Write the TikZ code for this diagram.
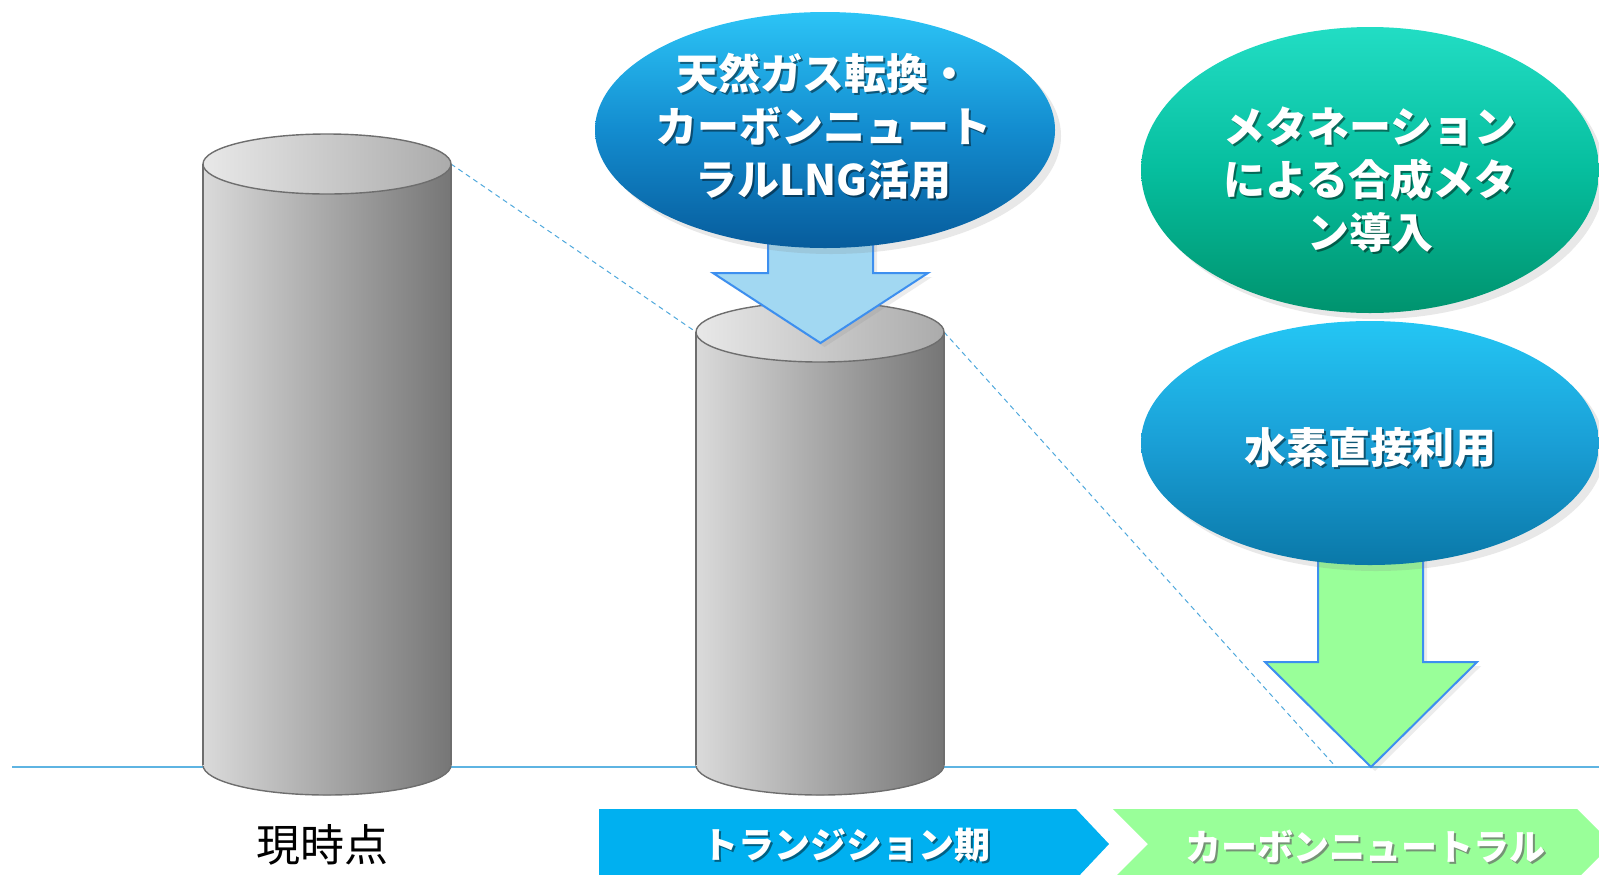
\documentclass[tikz,border=0pt]{standalone}
\usepackage{fontspec}
\newfontfamily\jp{Noto Sans CJK JP}
\usetikzlibrary{shapes.geometric,shadows}
\definecolor{baseblue}{HTML}{5EB4E2}
\definecolor{dashblue}{HTML}{4FA8DC}
\definecolor{cylL}{HTML}{DADADA}
\definecolor{cylR}{HTML}{767676}
\definecolor{topL}{HTML}{E8E8E8}
\definecolor{topR}{HTML}{ABABAB}
\definecolor{cylEdge}{HTML}{6E6E6E}
\definecolor{arrFillBlue}{HTML}{A2D8F2}
\definecolor{arrEdge}{HTML}{3D8FEF}
\definecolor{lgreen}{HTML}{99FF99}
\definecolor{chevBlue}{HTML}{00B0F0}
\definecolor{e1top}{HTML}{2CC4F6}
\definecolor{e1mid}{HTML}{138CCF}
\definecolor{e1bot}{HTML}{075C9C}
\definecolor{e2top}{HTML}{22DDC4}
\definecolor{e2mid}{HTML}{06BE9E}
\definecolor{e2bot}{HTML}{00936E}
\definecolor{e3top}{HTML}{24C6F4}
\definecolor{e3mid}{HTML}{1A9FD6}
\definecolor{e3bot}{HTML}{0A78A8}
\begin{document}
\begin{tikzpicture}[x=0.5pt,y=-0.5pt,
  cylbody/.style={left color=cylL, right color=cylR},
  cyltop/.style={left color=topL, right color=topR, draw=cylEdge, line width=0.7pt},
  cyledge/.style={draw=cylEdge, line width=0.7pt},
  dashln/.style={draw=dashblue, line width=0.5pt, dash pattern=on 2.5pt off 2pt},
  blockarrow/.style={draw=arrEdge, line width=1pt, line join=miter,
     drop shadow={shadow xshift=2pt, shadow yshift=-2pt, opacity=0.15}},
  bubble/.style={ellipse, inner sep=0pt, draw=none,
     drop shadow={shadow xshift=3pt, shadow yshift=-3pt, opacity=0.18}},
  etext/.style={font=\jp\bfseries\fontsize{21pt}{26.5pt}\selectfont, text=white, align=center, inner sep=0pt},
  ctext/.style={font=\jp\bfseries\fontsize{18pt}{22pt}\selectfont, text=white, inner sep=0pt},
  shd/.style={text=black, text opacity=0.45},
]
\useasboundingbox (0,0) rectangle (1599,874);

% baseline
\draw[baseblue, line width=0.8pt] (12,767) -- (1599,767);

% reference points
\coordinate (c1tr) at (451,164);
\coordinate (c2tl) at (696,332);
\coordinate (c2tr) at (944,332);
\coordinate (zero) at (1336,767);

% dashed trend lines
\draw[dashln] (c1tr) -- (c2tl);
\draw[dashln] (c2tr) -- (zero);

% cylinder 1
\fill[cylbody, draw=cylEdge, line width=0.7pt] (327,765) ellipse [x radius=124, y radius=30];
\fill[cylbody] (203,164) rectangle (451,765);
\draw[cyledge] (203,164) -- (203,765) (451,164) -- (451,765);
\path[cyltop] (327,164) ellipse [x radius=124, y radius=30];

% cylinder 2
\fill[cylbody, draw=cylEdge, line width=0.7pt] (820,765) ellipse [x radius=124, y radius=30];
\fill[cylbody] (696,332) rectangle (944,765);
\draw[cyledge] (696,332) -- (696,765) (944,332) -- (944,765);
\path[cyltop] (820,332) ellipse [x radius=124, y radius=30];

% block arrows
\path[blockarrow, fill=arrFillBlue] (768,200) -- (873,200) -- (873,273) -- (928,273) -- (820.5,343) -- (713,273) -- (768,273) -- cycle;
\path[blockarrow, fill=lgreen] (1318,520) -- (1423,520) -- (1423,662) -- (1477,662) -- (1371,767) -- (1265,662) -- (1318,662) -- cycle;

% bubbles
\node[bubble, minimum width=230pt, minimum height=118pt,
  top color=e1top, bottom color=e1bot, middle color=e1mid] (e1) at (825,130) {};
\node[bubble, minimum width=229pt, minimum height=143pt,
  top color=e2top, bottom color=e2bot, middle color=e2mid] (e2) at (1370,170) {};
\node[bubble, minimum width=229pt, minimum height=122pt,
  top color=e3top, bottom color=e3bot, middle color=e3mid] (e3) at (1370,443) {};

% bubble texts
\node[etext, shd] (t1s) at (825,128) {天然ガス転換・\\カーボンニュート\\ラルLNG活用};
\node[etext] (t1) at (823,126) {天然ガス転換・\\カーボンニュート\\ラルLNG活用};
\node[etext, shd] (t2s) at (1372,182) {メタネーション\\による合成メタ\\ン導入};
\node[etext] (t2) at (1370,180) {メタネーション\\による合成メタ\\ン導入};
\node[etext, shd] (t3s) at (1372,450) {水素直接利用};
\node[etext] (t3) at (1370,448) {水素直接利用};

% chevrons
\fill[chevBlue] (599,809) -- (1076,809) -- (1109,844) -- (1076,879) -- (599,879) -- cycle;
\fill[lgreen] (1113,809) -- (1577,809) -- (1612,844) -- (1577,879) -- (1113,879) -- (1148,844) -- cycle;

% bottom labels
\node[font=\jp\fontsize{22pt}{26pt}\selectfont, inner sep=0pt] (now) at (322,845) {現時点};
\node[ctext, shd] (transs) at (848,847) {トランジション期};
\node[ctext] (trans) at (846,845) {トランジション期};
\node[ctext, text=black!60, text opacity=0.7] (cns) at (1367,848) {カーボンニュートラル};
\node[ctext] (cn) at (1365,846) {カーボンニュートラル};
\end{tikzpicture}
\end{document}
